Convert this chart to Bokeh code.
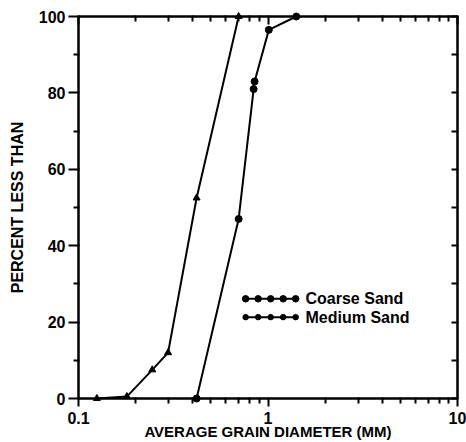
from bokeh.plotting import figure
from bokeh.models import (Range1d, LogScale, LogAxis, LinearAxis,
                          FixedTicker, CustomJSTickFormatter)
from bokeh.core.properties import value
from bokeh.embed import file_html
from bokeh.resources import INLINE

# Grain size distributions: diameter (mm) vs cumulative percent finer
coarse_d = [0.42, 0.70, 0.84, 0.85, 1.01, 1.41]
coarse_pct = [0, 47, 81, 83, 96.5, 100]
medium_d = [0.125, 0.18, 0.245, 0.297, 0.42, 0.70]
medium_pct = [0, 0.5, 7.5, 12, 52.5, 100]

series_names = ["Coarse Sand", "Medium Sand"]
x_major = [0.1, 1, 10]
x_minor = [0.2, 0.3, 0.4, 0.5, 0.6, 0.7, 0.8, 0.9, 2, 3, 4, 5, 6, 7, 8, 9]
y_major = [0, 20, 40, 60, 80, 100]
y_minor = [10, 30, 50, 70, 90]

FONT = "Liberation Sans"
X0, X1 = 0.1, 10
Y0, Y1 = 0, 100

p = figure(width=466, height=442, x_axis_type=None, y_axis_type=None,
           x_range=Range1d(X0, X1), y_range=Range1d(Y0, Y1),
           output_backend="svg", toolbar_location=None,
           min_border_left=78, min_border_right=9, min_border_top=16,
           min_border_bottom=44)
p.x_scale = LogScale()
p.xgrid.visible = False
p.ygrid.visible = False
p.outline_line_color = "black"
p.outline_line_width = 2

fmt = CustomJSTickFormatter(code="return String(tick);")
xt = FixedTicker(ticks=x_major, minor_ticks=x_minor)
yt = FixedTicker(ticks=y_major, minor_ticks=y_minor)

xb = LogAxis(ticker=xt, formatter=fmt, axis_label="AVERAGE GRAIN DIAMETER (MM)")
xb.major_tick_in = 1
xb.major_tick_out = 8
xb.minor_tick_in = 1
xb.minor_tick_out = 5
p.add_layout(xb, "below")

xtop = LogAxis(ticker=xt, formatter=fmt)
xtop.major_tick_in = 8
xtop.major_tick_out = 1
xtop.minor_tick_in = 5
xtop.minor_tick_out = 1
xtop.major_label_text_font_size = "0px"
xtop.major_label_standoff = 0
p.add_layout(xtop, "above")

yl = LinearAxis(ticker=yt, axis_label="PERCENT LESS THAN")
yl.major_tick_in = 1
yl.major_tick_out = 10
yl.minor_tick_in = 1
yl.minor_tick_out = 5
p.add_layout(yl, "left")

yr = LinearAxis(ticker=yt)
yr.major_tick_in = 6
yr.major_tick_out = 1
yr.minor_tick_in = 6
yr.minor_tick_out = 1
yr.major_label_text_font_size = "0px"
yr.major_label_standoff = 0
p.add_layout(yr, "right")

for ax in (xb, xtop, yl, yr):
    ax.axis_line_width = 2
    ax.major_tick_line_width = 2
    ax.minor_tick_line_width = 2

for ax in (xb, yl):
    ax.major_label_text_font = FONT
    ax.major_label_text_font_style = "bold"
    ax.major_label_text_color = "black"
    ax.axis_label_text_font = FONT
    ax.axis_label_text_font_style = "bold"
    ax.axis_label_text_color = "black"

xb.major_label_text_font_size = "16px"
xb.major_label_standoff = 5
xb.axis_label_text_font_size = "15px"
xb.axis_label_standoff = -4
yl.major_label_text_font_size = "16px"
yl.major_label_standoff = 3
yl.axis_label_text_font_size = "16px"
yl.axis_label_standoff = 10

# data curves, painted after the axes
LVL = "annotation"
p.line(coarse_d, coarse_pct, line_color="black", line_width=2, level=LVL)
p.scatter(coarse_d, coarse_pct, marker="circle", size=7, color="black", level=LVL)
p.line(medium_d, medium_pct, line_color="black", line_width=2, level=LVL)
p.scatter(medium_d, medium_pct, marker="triangle", size=7, color="black", level=LVL)


# legend, placed by fractions of the frame
def fx(f):
    return X0 * (X1 / X0) ** f


def fy(f):
    return Y0 + (Y1 - Y0) * f


leg_x0, leg_x1 = 0.441, 0.573
leg_rows = [0.261, 0.213]
leg_sizes = [6.5, 5.5]
leg_text_x = 0.599
n_dots = 5
for name, yy, sz in zip(series_names, leg_rows, leg_sizes):
    xs = [fx(leg_x0 + (leg_x1 - leg_x0) * i / (n_dots - 1)) for i in range(n_dots)]
    ys = [fy(yy)] * n_dots
    p.line(xs, ys, line_color="black", line_width=2, level=LVL)
    p.scatter(xs, ys, marker="circle", size=sz, color="black", level=LVL)
    p.text([fx(leg_text_x)], [fy(yy)], text=[name], text_font=value(FONT),
           text_font_style="bold", text_font_size="16px",
           text_baseline="middle", text_align="left", text_color="black",
           level=LVL)

open("out.html", "w").write(file_html(p, INLINE))
